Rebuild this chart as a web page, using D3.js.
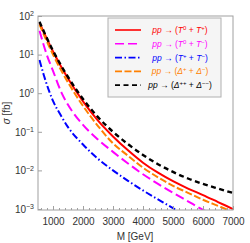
<!DOCTYPE html>
<html>
<head>
<meta charset="utf-8">
<script src="https://cdn.jsdelivr.net/npm/d3@7"></script>
<style>
  body { margin: 0; background: #fff; }
  svg { font-family: "Liberation Sans", Arial, sans-serif; }
</style>
</head>
<body>
<script>
// masses (GeV) and log10(sigma / fb)
const massT0Tp = [550, 1000, 1500, 2000, 2500, 3000, 3500, 4000, 4500, 5000, 5500, 6000, 6500, 7000];
const logT0Tp  = [1.82, 1.08, 0.38, -0.21, -0.71, -1.12, -1.48, -1.80, -2.06, -2.28, -2.47, -2.64, -2.82, -3.00];

const massT0Tm = [550, 800, 1000, 1290, 1500, 2000, 2500, 3000, 3500, 4000, 4500, 5000, 5500, 6000, 6100];
const logT0Tm  = [1.62, 0.98, 0.58, 0.0, -0.30, -0.82, -1.20, -1.52, -1.82, -2.10, -2.35, -2.58, -2.80, -3.02, -3.06];

const massTpTm = [550, 700, 850, 1000, 1250, 1500, 2000, 2500, 3000, 3500, 4000, 4500, 5000, 5200];
const logTpTm  = [0.86, 0.45, 0.10, -0.20, -0.56, -0.88, -1.33, -1.70, -2.00, -2.27, -2.52, -2.75, -2.98, -3.07];

const massDpDm = [550, 1000, 1500, 2000, 2500, 3000, 3500, 4000, 4500, 5000, 5500, 6000, 6500, 7000];
const logDpDm  = [1.78, 1.00, 0.28, -0.33, -0.85, -1.30, -1.62, -1.93, -2.18, -2.40, -2.58, -2.76, -2.92, -3.08];

const massDppDmm = [550, 1000, 1500, 2000, 2500, 3000, 3500, 4000, 4500, 5000, 5500, 6000, 6500, 7000];
const logDppDmm  = [1.85, 1.10, 0.42, -0.15, -0.62, -1.00, -1.32, -1.60, -1.84, -2.04, -2.21, -2.35, -2.47, -2.585];

const xTicks = [1000, 2000, 3000, 4000, 5000, 6000, 7000];
const yTickExp = [-3, -2, -1, 0, 1, 2];

const series = [
  { m: massT0Tp,   v: logT0Tp,   color: "#ff0000", dash: null,            w: 2,   label: ["T", "0", "T", "+"] },
  { m: massT0Tm,   v: logT0Tm,   color: "#ff00ff", dash: "9,4",           w: 2,   label: ["T", "0", "T", "\u2212"] },
  { m: massTpTm,   v: logTpTm,   color: "#0000ff", dash: "7,2.5,1.5,2.5", w: 2,   label: ["T", "+", "T", "\u2212"] },
  { m: massDpDm,   v: logDpDm,   color: "#ff8000", dash: "7,2.5",         w: 2,   label: ["\u0394", "+", "\u0394", "\u2212"] },
  { m: massDppDmm, v: logDppDmm, color: "#000000", dash: "5,3.5",         w: 2.4, label: ["\u0394", "++", "\u0394", "\u2212\u2212"] }
];

const W = 250, H = 243;
const plotL = 38, plotR = 233, plotT = 16, plotB = 210;

const svg = d3.select("body").append("svg")
  .attr("width", W).attr("height", H);

const x = d3.scaleLinear().domain([500, 7000]).range([plotL, plotR]);
const y = d3.scaleLog().domain([Math.pow(10, -3.026), 100]).range([plotB, plotT]);

svg.append("clipPath").attr("id", "clip")
  .append("rect").attr("x", plotL).attr("y", plotT)
  .attr("width", plotR - plotL).attr("height", plotB - plotT);

// curves
const line = d3.line()
  .x(d => x(d[0]))
  .y(d => y(Math.pow(10, d[1])))
  .curve(d3.curveMonotoneX);

const curves = svg.append("g").attr("clip-path", "url(#clip)");
series.forEach(s => {
  curves.append("path")
    .datum(s.m.map((m, i) => [m, s.v[i]]))
    .attr("d", line)
    .attr("fill", "none")
    .attr("stroke", s.color)
    .attr("stroke-width", s.w)
    .attr("stroke-dasharray", s.dash);
});

// frame
svg.append("rect")
  .attr("x", plotL).attr("y", plotT)
  .attr("width", plotR - plotL).attr("height", plotB - plotT)
  .attr("fill", "none").attr("stroke", "#a0a0a0").attr("stroke-width", 1);

const tickColor = "#a0a0a0";

// bottom axis, minor ticks
svg.append("g")
  .attr("transform", `translate(0,${plotB})`)
  .call(d3.axisBottom(x).tickValues(d3.range(600, 7001, 200)).tickSize(-2).tickFormat(""))
  .call(g => g.select(".domain").remove())
  .call(g => g.selectAll("line").attr("stroke", tickColor));

// bottom axis, major ticks
svg.append("g")
  .attr("transform", `translate(0,${plotB})`)
  .call(d3.axisBottom(x).tickValues(xTicks).tickSize(-4).tickPadding(8).tickFormat(d3.format("d")))
  .call(g => g.select(".domain").remove())
  .call(g => g.selectAll("line").attr("stroke", tickColor))
  .call(g => g.selectAll("text").attr("fill", "#333").attr("font-size", 10)
    .attr("font-family", "Liberation Sans, Arial, sans-serif"));

// left axis
svg.append("g")
  .attr("transform", `translate(${plotL},0)`)
  .call(d3.axisLeft(y).tickValues(yTickExp.map(e => Math.pow(10, e))).tickSize(-4).tickPadding(6).tickFormat(""))
  .call(g => g.select(".domain").remove())
  .call(g => g.selectAll("line").attr("stroke", tickColor))
  .call(g => g.selectAll(".tick").each(function(d) {
    const e = Math.round(Math.log10(d));
    const t = d3.select(this).select("text")
      .attr("fill", "#333").attr("font-size", 10).attr("x", -4)
      .attr("font-family", "Liberation Sans, Arial, sans-serif");
    t.append("tspan").text("10");
    t.append("tspan").attr("dy", "-0.5em").attr("font-size", 7)
      .text(e < 0 ? "\u2212" + (-e) : String(e));
  }));

// axis titles
svg.append("text")
  .attr("x", 135).attr("y", 240)
  .attr("text-anchor", "middle").attr("font-size", 10).attr("fill", "#333")
  .text("M [GeV]");

svg.append("text")
  .attr("transform", "translate(10,113) rotate(-90)")
  .attr("text-anchor", "middle").attr("font-size", 10).attr("fill", "#333")
  .call(t => {
    t.append("tspan").attr("font-style", "italic").text("\u03c3");
    t.append("tspan").text(" [fb]");
  });

// legend
const lg = svg.append("g");
lg.append("rect")
  .attr("x", 108).attr("y", 18).attr("width", 113).attr("height", 79)
  .attr("fill", "#f5f5f5").attr("stroke", "#b0b0b0").attr("stroke-width", 1);

series.forEach((s, i) => {
  const ly = 30 + i * 13.8;
  lg.append("line")
    .attr("x1", 115).attr("x2", 141).attr("y1", ly).attr("y2", ly)
    .attr("stroke", s.color).attr("stroke-width", s.w === 2 ? 1.6 : 1.8)
    .attr("stroke-dasharray", s.dash);
  const t = lg.append("text")
    .attr("x", 180).attr("y", ly + 3)
    .attr("text-anchor", "middle").attr("font-size", 8.5)
    .attr("fill", s.color);
  t.append("tspan").attr("font-style", "italic").text("pp");
  t.append("tspan").text(" \u2192 (");
  t.append("tspan").attr("font-style", "italic").text(s.label[0]);
  t.append("tspan").attr("dy", -3).attr("font-size", 6).text(s.label[1]);
  t.append("tspan").attr("dy", 3).text(" + ");
  t.append("tspan").attr("font-style", "italic").text(s.label[2]);
  t.append("tspan").attr("dy", -3).attr("font-size", 6).text(s.label[3]);
  t.append("tspan").attr("dy", 3).text(")");
});
</script>
</body>
</html>
